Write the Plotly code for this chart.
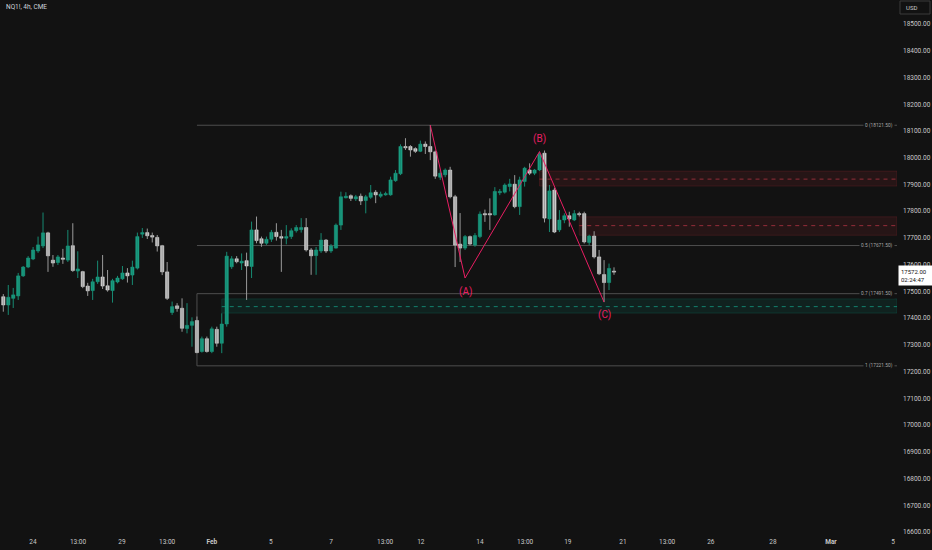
import plotly.graph_objects as go

# NQ1! 4h candles, one entry per bar (x = bar number)
opens = [17480, 17449, 17474, 17483, 17558, 17591, 17621, 17651, 17670, 17719,
         17617, 17608, 17625, 17617, 17671, 17576, 17574, 17520, 17503, 17536,
         17554, 17521, 17503, 17535, 17547, 17569, 17561, 17587, 17714, 17720,
         17709, 17702, 17671, 17573, 17421, 17446, 17437, 17361, 17373, 17391,
         17275, 17323, 17275, 17358, 17306, 17378, 17592, 17622, 17606, 17615,
         17593, 17730, 17697, 17680, 17695, 17721, 17705, 17699, 17705, 17727,
         17731, 17739, 17655, 17634, 17651, 17692, 17651, 17662, 17748, 17850,
         17858, 17846, 17856, 17840, 17852, 17871, 17856, 17861, 17861, 17914,
         17940, 18042, 18042, 18034, 18024, 18051, 18042, 18022, 17927, 17936,
         17954, 17854, 17677, 17662, 17705, 17673, 17705, 17791, 17791, 17786,
         17869, 17871, 17892, 17901, 17817, 17911, 17954, 17942, 17954, 18017,
         17771, 17879, 17730, 17767, 17783, 17767, 17791, 17791, 17683, 17707,
         17629, 17563, 17533, 17576]
highs = [17490, 17524, 17513, 17569, 17595, 17632, 17666, 17705, 17795, 17723,
         17636, 17636, 17659, 17730, 17755, 17650, 17577, 17532, 17547, 17615,
         17636, 17580, 17547, 17558, 17595, 17587, 17615, 17720, 17737, 17735,
         17720, 17711, 17674, 17610, 17462, 17456, 17474, 17456, 17403, 17406,
         17331, 17331, 17368, 17368, 17418, 17648, 17632, 17632, 17642, 17645,
         17761, 17780, 17705, 17705, 17730, 17755, 17730, 17748, 17736, 17748,
         17774, 17774, 17662, 17666, 17718, 17696, 17677, 17754, 17873, 17871,
         17863, 17861, 17866, 17861, 17898, 17879, 17873, 17873, 17929, 17954,
         18050, 18073, 18047, 18039, 18064, 18061, 18122, 18027, 17954, 17960,
         17966, 17861, 17793, 17711, 17709, 17718, 17799, 17806, 17848, 17890,
         17883, 17904, 17921, 17935, 17929, 17966, 17979, 17958, 18023, 18027,
         17898, 17888, 17804, 17792, 17798, 17804, 17798, 17798, 17712, 17725,
         17655, 17617, 17604, 17590]
lows = [17424, 17412, 17438, 17468, 17554, 17587, 17617, 17644, 17662, 17573,
        17592, 17599, 17603, 17610, 17573, 17550, 17512, 17483, 17468, 17528,
        17509, 17499, 17458, 17530, 17543, 17533, 17524, 17582, 17700, 17696,
        17683, 17649, 17561, 17468, 17412, 17424, 17349, 17343, 17293, 17269,
        17271, 17271, 17269, 17293, 17269, 17368, 17584, 17605, 17580, 17468,
        17550, 17680, 17667, 17674, 17685, 17690, 17573, 17676, 17696, 17720,
        17720, 17649, 17562, 17562, 17644, 17644, 17644, 17660, 17730, 17848,
        17838, 17838, 17823, 17792, 17846, 17830, 17850, 17858, 17858, 17910,
        17935, 18029, 18004, 18018, 18021, 18014, 17991, 17921, 17917, 17927,
        17848, 17591, 17610, 17655, 17672, 17667, 17699, 17760, 17730, 17783,
        17860, 17866, 17874, 17811, 17786, 17892, 17935, 17935, 17950, 17758,
        17722, 17718, 17722, 17755, 17742, 17763, 17780, 17679, 17673, 17623,
        17561, 17460, 17505, 17562]
closes = [17449, 17478, 17487, 17558, 17591, 17625, 17655, 17674, 17719, 17633,
          17606, 17629, 17620, 17670, 17578, 17584, 17518, 17502, 17536, 17554,
          17520, 17505, 17540, 17550, 17569, 17558, 17591, 17705, 17720, 17708,
          17703, 17670, 17573, 17474, 17443, 17436, 17362, 17373, 17387, 17271,
          17323, 17275, 17360, 17306, 17378, 17632, 17622, 17611, 17613, 17595,
          17730, 17690, 17680, 17695, 17721, 17705, 17699, 17705, 17727, 17739,
          17739, 17655, 17633, 17655, 17692, 17651, 17670, 17748, 17854, 17856,
          17848, 17854, 17838, 17854, 17869, 17861, 17864, 17866, 17917, 17942,
          18042, 18037, 18029, 18024, 18051, 18042, 18022, 17931, 17942, 17954,
          17854, 17673, 17662, 17705, 17677, 17709, 17789, 17786, 17786, 17874,
          17874, 17898, 17902, 17817, 17917, 17961, 17942, 17954, 18013, 17774,
          17876, 17722, 17767, 17783, 17771, 17791, 17787, 17685, 17707, 17629,
          17566, 17533, 17586, 17572]

# time axis labels (bar positions) and texts
tick_pos = [5.98, 15.05, 23.9, 33.0, 42.0, 53.9, 66.0, 76.9, 84.1, 96.0,
            105.1, 113.7, 124.8, 133.7, 142.5, 155.0, 166.7, 179.2]
tick_text = ['24', '13:00', '29', '13:00', '<b>Feb</b>', '5', '7', '13:00', '12', '14',
             '13:00', '19', '21', '13:00', '26', '28', '<b>Mar</b>', '5']

# fib retracement
fib_ratio = ['0', '0.5', '0.7', '1']
fib_price = [18121.50, 17671.50, 17491.50, 17221.50]
fib_start = 39

# demand / supply zones
zone_start = [44, 108, 116]
zone_top = [17472, 17950, 17779]
zone_bottom = [17419, 17894, 17710]
zone_mid = [17443, 17920, 17746]
zone_kind = ['demand', 'supply', 'supply']

# ABC correction drawing
wave_x = [86, 93, 108, 121]
wave_y = [18121.5, 17550, 18023, 17460]
wave_labels = ['', '(A)', '(B)', '(C)']

last_price = 17572.00
countdown = '02:24:47'

BG = '#121212'
GREEN = '#1a9e82'
GREY = '#c4c4c4'
PINK = '#e91e63'
TXT = '#c8c8c8'
X_END = 180.0

idx = list(range(len(opens)))
up = [i for i in idx if closes[i] >= opens[i]]
dn = [i for i in idx if closes[i] < opens[i]]


def wicks(ids, color):
    xs, ys = [], []
    for i in ids:
        xs += [i, i, None]
        ys += [lows[i], highs[i], None]
    return go.Scatter(x=xs, y=ys, mode='lines', line=dict(color=color, width=1),
                      hoverinfo='skip', showlegend=False)


def bodies(ids, color, edge):
    return go.Bar(x=ids,
                  base=[min(opens[i], closes[i]) for i in ids],
                  y=[max(abs(closes[i] - opens[i]), 2) for i in ids],
                  width=0.66,
                  marker=dict(color=color, line=dict(color=edge, width=0.5)),
                  hoverinfo='skip', showlegend=False)


fig = go.Figure()
fig.add_trace(wicks(up, '#178a72'))
fig.add_trace(wicks(dn, '#9a9a9a'))
fig.add_trace(bodies(up, GREEN, GREEN))
fig.add_trace(bodies(dn, GREY, '#e6e6e6'))

shapes = []
# zones
for x0, top, bot, mid, kind in zip(zone_start, zone_top, zone_bottom, zone_mid, zone_kind):
    if kind == 'demand':
        fill, edge, dash = 'rgba(8,153,129,0.12)', 'rgba(8,153,129,0.2)', 'rgba(20,160,135,0.75)'
    else:
        fill, edge, dash = 'rgba(242,54,69,0.09)', 'rgba(242,54,69,0.14)', 'rgba(220,60,80,0.6)'
    shapes.append(dict(type='rect', xref='x', yref='y', x0=x0, x1=X_END, y0=bot, y1=top,
                       fillcolor=fill, line=dict(color=edge, width=1), layer='below'))
    shapes.append(dict(type='line', xref='x', yref='y', x0=x0, x1=X_END, y0=mid, y1=mid,
                       line=dict(color=dash, width=1, dash='4px,4px'), layer='below'))

# fib levels
for p in fib_price:
    shapes.append(dict(type='line', xref='x', yref='y', x0=fib_start, x1=X_END, y0=p, y1=p,
                       line=dict(color='#4e4e4e', width=1), layer='below'))
shapes.append(dict(type='line', xref='x', yref='y', x0=fib_start, x1=fib_start,
                   y0=fib_price[3], y1=fib_price[2],
                   line=dict(color='#4e4e4e', width=1), layer='below'))

# USD box on the price scale
shapes.append(dict(type='rect', xref='paper', yref='paper',
                   x0=1 + 3 / 897, x1=1 + 33 / 897, y0=1 - 14 / 536, y1=1 - 1 / 536,
                   line=dict(color='#3a3a3a', width=1), fillcolor=BG))

fig.add_trace(go.Scatter(x=wave_x, y=wave_y, mode='lines',
                         line=dict(color=PINK, width=1),
                         hoverinfo='skip', showlegend=False))

annotations = []
for r, p in zip(fib_ratio, fib_price):
    annotations.append(dict(x=179.5, y=p, xref='x', yref='y', xanchor='right', yanchor='middle',
                            text=f'{r} ({p:.2f})', showarrow=False, bgcolor=BG, borderpad=1,
                            font=dict(size=4.8, color='#a8a8a8')))

shifts = [0, -14, 13, -13]
for x, y, lab, s in zip(wave_x, wave_y, wave_labels, shifts):
    if lab:
        annotations.append(dict(x=x, y=y, xref='x', yref='y', text=lab, showarrow=False,
                                yshift=s, font=dict(size=10, color=PINK)))

annotations.append(dict(x=0.004, y=1 - 7 / 536, xref='paper', yref='paper',
                        xanchor='left', yanchor='middle', text='NQ1!, 4h, CME',
                        showarrow=False, font=dict(size=6.5, color='#d1d4dc')))
annotations.append(dict(x=1 + 7 / 897, y=1 - 7.5 / 536, xref='paper', yref='paper',
                        xanchor='left', yanchor='middle', text='USD',
                        showarrow=False, font=dict(size=6, color=TXT)))
annotations.append(dict(x=1 + 1 / 897, y=last_price, xref='paper', yref='y',
                        xanchor='left', yanchor='top', yshift=7,
                        text=f'{last_price:.2f}<br>{countdown}', align='left',
                        showarrow=False, bgcolor='#ffffff', borderpad=2, width=30,
                        font=dict(size=6, color='#131313')))

fig.update_layout(
    width=932, height=550,
    margin=dict(l=0, r=35, t=0, b=14),
    paper_bgcolor=BG, plot_bgcolor=BG,
    font=dict(family='Roboto', color=TXT),
    barmode='overlay',
    hovermode=False,
    showlegend=False,
    shapes=shapes,
    annotations=annotations,
    xaxis=dict(range=[-0.665, X_END], showgrid=False, zeroline=False, showline=False,
               tickvals=tick_pos, ticktext=tick_text, ticks='',
               tickfont=dict(size=6.5, color=TXT)),
    yaxis=dict(range=[16585, 18590], side='right', dtick=100, tickformat='.2f',
               showgrid=False, zeroline=False, showline=False, ticks='',
               ticklabelstandoff=5, tickfont=dict(size=6.5, color=TXT)),
)

# the page's default body margin would push the 932x550 figure off the window
fig.write_html('out.html', config={'displayModeBar': False},
               post_script="document.body.style.margin='0';"
               "document.body.style.background='" + BG + "';")
